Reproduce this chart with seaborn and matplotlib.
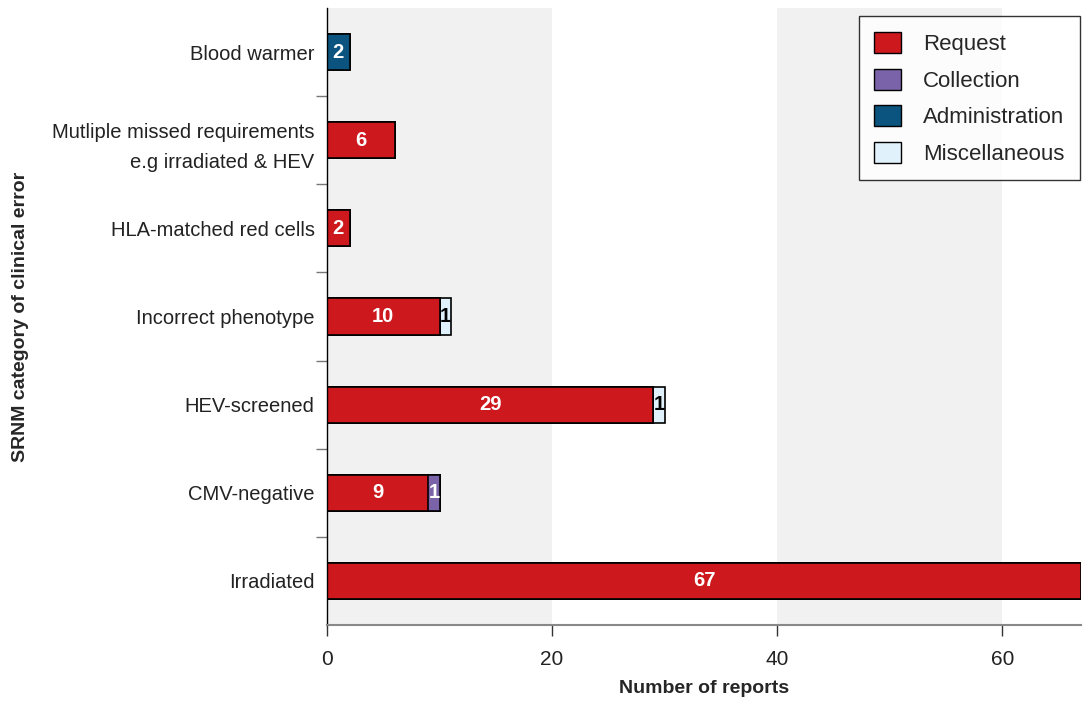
import numpy as np
import pandas as pd
import seaborn as sns
import matplotlib.pyplot as plt
from matplotlib.patches import Patch

categories = [
    "Blood warmer",
    "Mutliple missed requirements\ne.g irradiated & HEV",
    "HLA-matched red cells",
    "Incorrect phenotype",
    "HEV-screened",
    "CMV-negative",
    "Irradiated",
]
request = [0, 6, 2, 10, 29, 9, 67]
collection = [0, 0, 0, 0, 0, 1, 0]
administration = [2, 0, 0, 0, 0, 0, 0]
miscellaneous = [0, 0, 0, 1, 1, 0, 0]

series_names = ["Request", "Collection", "Administration", "Miscellaneous"]
colors = ["#cd181e", "#7a63a8", "#0b5480", "#e0f1fb"]
text_colors = ["white", "white", "white", "black"]

df = pd.DataFrame({
    "category": categories,
    "Request": request,
    "Collection": collection,
    "Administration": administration,
    "Miscellaneous": miscellaneous,
})

sns.set_theme(style="white")
plt.rcParams["font.family"] = ["Liberation Sans", "DejaVu Sans"]

fig = plt.figure(figsize=(10.88, 7.02), dpi=100)
ax = fig.add_axes([0.3006, 0.1097, 0.693, 0.879])

# shaded bands behind the bars
ax.axvspan(0, 20, color="#f1f1f1", zorder=0, lw=0)
ax.axvspan(40, 60, color="#f1f1f1", zorder=0, lw=0)

# stacked bars: draw cumulative totals, longest first
cum = df[series_names].cumsum(axis=1)
for i in range(len(series_names) - 1, -1, -1):
    name = series_names[i]
    sns.barplot(
        data=cum.assign(category=df["category"]),
        x=name, y="category", order=categories, orient="h",
        color=colors[i], saturation=1, width=0.41,
        edgecolor="black", linewidth=1.2, ax=ax, zorder=2,
    )

# value labels
for row, cat in enumerate(categories):
    left = 0
    for i, name in enumerate(series_names):
        v = df.loc[row, name]
        if v > 0:
            ax.text(left + v / 2, row, str(v), ha="center", va="center",
                    color=text_colors[i], fontsize=14.5, fontweight="bold", zorder=5)
        left += v

ax.set_xlim(0, 67)
ax.set_ylim(6.5, -0.5)
ax.set_xticks([0, 20, 40, 60])
ax.set_yticks(range(len(categories)))
ax.set_yticklabels(categories, linespacing=1.7)
ax.set_yticks(np.arange(0.5, 6.5, 1), minor=True)
ax.tick_params(axis="y", which="major", length=0, pad=9, labelsize=14.5, labelcolor="#222222")
ax.tick_params(axis="y", which="minor", length=8, color="#777777", width=1, left=True)
ax.tick_params(axis="x", which="major", length=8, color="#333333", width=1, bottom=True,
               labelsize=15, labelcolor="#222222", pad=10)

for s in ["top", "right"]:
    ax.spines[s].set_visible(False)
ax.spines["left"].set_color("black")
ax.spines["left"].set_linewidth(1)
ax.spines["bottom"].set_color("#888888")
ax.spines["bottom"].set_linewidth(1.5)

ax.set_xlabel("Number of reports", fontsize=14, fontweight="bold", labelpad=8)
ax.set_ylabel("SRNM category of clinical error", fontsize=14, fontweight="bold")
ax.yaxis.set_label_coords(-0.395, 0.5)

handles = [Patch(facecolor=c, edgecolor="black", linewidth=1) for c in colors]
leg = ax.legend(handles, series_names, loc="upper right", bbox_to_anchor=(1.0, 0.988),
                fontsize=16, frameon=True, fancybox=False, edgecolor="black",
                handlelength=1.2, handleheight=1.1, handletextpad=1.0,
                borderpad=0.7, labelspacing=0.6, borderaxespad=0.05)
leg.get_frame().set_linewidth(1)
leg.set_zorder(10)

fig.savefig("out.png", dpi=100)
